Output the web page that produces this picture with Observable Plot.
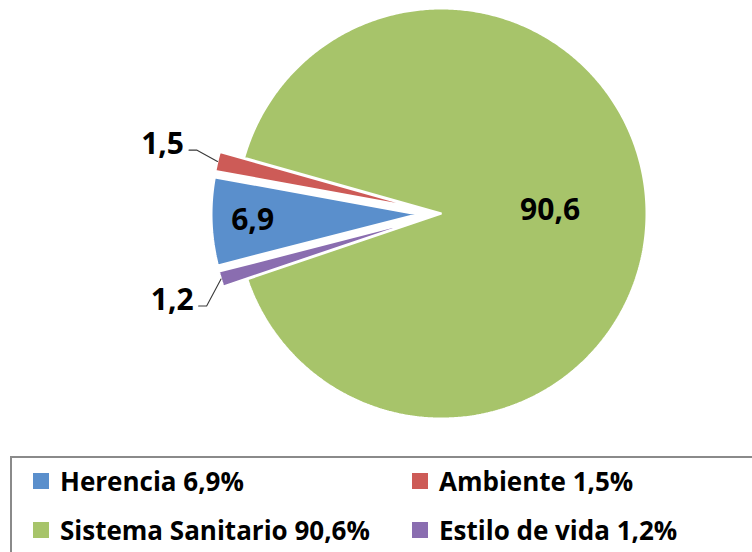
<!DOCTYPE html>
<html><head><meta charset="utf-8">
<script src="https://cdn.jsdelivr.net/npm/d3@7"></script>
<script src="https://cdn.jsdelivr.net/npm/@observablehq/plot@0.6"></script>
<style>
html,body{margin:0;padding:0;background:#fff;}
body{width:752px;height:552px;overflow:hidden;position:relative;font-family:"Open Sans",sans-serif;}
#chart{position:absolute;left:0;top:0;}
#legendBox{position:absolute;left:10px;top:456px;width:780px;height:140px;border:2px solid #8a8a8a;box-sizing:border-box;}
.item{position:absolute;height:40px;display:flex;align-items:center;font-weight:700;font-size:26px;line-height:1;color:#000;white-space:nowrap;}
.sw{width:16px;height:16px;margin-right:11px;flex:none;}
</style></head><body>
<div id="chart"></div>
<div id="legendBox"></div>
<script>
// ---- data ----
const categories = ["Herencia", "Ambiente", "Sistema Sanitario", "Estilo de vida"];
const values = [6.9, 1.5, 90.6, 1.2];
const valueLabels = ["6,9", "1,5", "90,6", "1,2"];
const legendLabels = ["Herencia 6,9%", "Ambiente 1,5%", "Sistema Sanitario 90,6%", "Estilo de vida 1,2%"];
const colors = ["#5a8fcc", "#cd5b57", "#a7c46a", "#8a6db0"];

// ---- layout ----
const W = 752, H = 456;
const cx = 441, cy = 213, R = 205;
const rad = d => d * Math.PI / 180;
const start = rad(255.6);
const explode = v => v < 50 ? 25 : 0;
const insideLabel = {"Herencia": 0.8, "Sistema Sanitario": 0.53};
const outsideNudge = {"Ambiente": rad(1.6), "Estilo de vida": rad(-5.5)};

const table = categories.map((c, i) => ({name: c, value: values[i], label: valueLabels[i]}));
const arcs = d3.pie().sort(null).value(d => d.value).startAngle(start).endAngle(start + 2 * Math.PI)(table);

const pts = [];
const inLabels = [];
const outLabels = [];
const leaders = [];
for (const a of arcs) {
  const name = a.data.name;
  const mid = (a.startAngle + a.endAngle) / 2;
  const e = explode(a.data.value);
  const ox = Math.sin(mid) * e, oy = -Math.cos(mid) * e;
  pts.push({name, x: ox, y: oy});
  const n = Math.max(8, Math.ceil((a.endAngle - a.startAngle) / rad(0.5)));
  for (let k = 0; k <= n; k++) {
    const t = a.startAngle + (a.endAngle - a.startAngle) * k / n;
    pts.push({name, x: ox + R * Math.sin(t), y: oy - R * Math.cos(t)});
  }
  if (insideLabel[name] !== undefined) {
    const f = insideLabel[name];
    inLabels.push({name, label: a.data.label, x: ox + f * R * Math.sin(mid), y: oy - f * R * Math.cos(mid)});
  } else {
    const side = Math.sin(mid) < 0 ? -1 : 1;
    const ang = mid + (outsideNudge[name] || 0);
    const ax = ox + R * Math.sin(mid), ay = oy - R * Math.cos(mid);
    const ex = ox + 1.11 * R * Math.sin(ang), ey = oy - 1.11 * R * Math.cos(ang);
    const hx = ex + side * 8;
    leaders.push({name, x: ax, y: ay}, {name, x: ex, y: ey}, {name, x: hx, y: ey});
    outLabels.push({name, label: a.data.label, x: hx + side * 5, y: ey - 6});
  }
}

const font = "'Open Sans', sans-serif";
const chart = Plot.plot({
  width: W, height: H,
  margin: 0,
  x: {domain: [-cx, W - cx], range: [0, W], axis: null},
  y: {domain: [-cy, H - cy], range: [0, H], axis: null},
  color: {domain: categories, range: colors},
  style: {background: "transparent", fontFamily: font},
  marks: [
    Plot.line(pts, {x: "x", y: "y", z: "name", fill: "name", stroke: "white", strokeWidth: 2, strokeLinejoin: "miter", curve: "linear-closed"}),
    Plot.line(leaders, {x: "x", y: "y", z: "name", stroke: "#3a3a3a", strokeWidth: 1.1}),
    Plot.text(inLabels, {x: "x", y: "y", text: "label", fontSize: 30, fontWeight: 700, fill: "#000", textAnchor: "middle", fontFamily: font}),
    Plot.text(outLabels, {x: "x", y: "y", text: "label", fontSize: 30, fontWeight: 700, fill: "#000", textAnchor: "end", fontFamily: font})
  ]
});
document.getElementById("chart").appendChild(chart);

// ---- legend ----
const legendPos = [[33, 481], [412, 481], [33, 530], [412, 530]];
categories.forEach((c, i) => {
  const div = document.createElement("div");
  div.className = "item";
  div.style.left = legendPos[i][0] + "px";
  div.style.top = (legendPos[i][1] - 20) + "px";
  const sw = document.createElement("span");
  sw.className = "sw";
  sw.style.background = colors[i];
  const tx = document.createElement("span");
  tx.textContent = legendLabels[i];
  div.appendChild(sw);
  div.appendChild(tx);
  document.body.appendChild(div);
});
</script>
</body></html>
